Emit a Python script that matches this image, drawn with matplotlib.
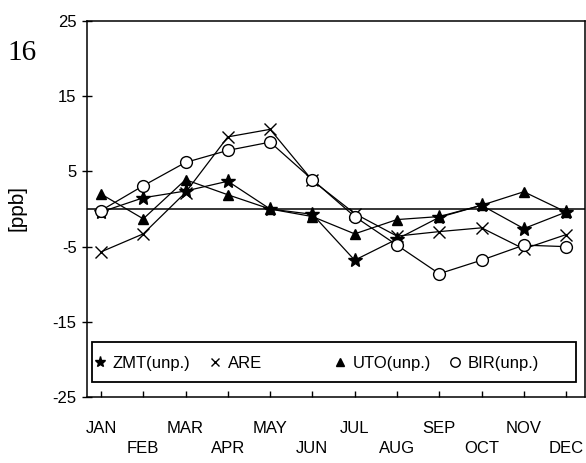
import matplotlib
matplotlib.use("Agg")
import matplotlib.pyplot as plt
from matplotlib.patches import Rectangle
from matplotlib.legend import Legend
import numpy as np

plt.rcParams['font.family'] = ['Liberation Sans', 'DejaVu Sans']

months = ["JAN", "FEB", "MAR", "APR", "MAY", "JUN",
          "JUL", "AUG", "SEP", "OCT", "NOV", "DEC"]

zmt = [-0.4, 1.5, 2.4, 3.7, 0.0, -0.7, -6.8, -4.0, -1.1, 0.5, -2.6, -0.4]
are = [-5.7, -3.3, 2.2, 9.6, 10.6, 3.8, -0.6, -3.6, -3.0, -2.5, -5.3, -3.4]
uto = [2.0, -1.3, 3.9, 1.9, 0.0, -1.0, -3.3, -1.4, -1.0, 0.5, 2.3, -0.4]
bir = [-0.2, 3.1, 6.2, 7.8, 8.9, 3.9, -1.0, -4.8, -8.6, -6.8, -4.8, -5.0]

y_ticks = [25, 15, 5, -5, -15, -25]

fig = plt.figure(figsize=(5.86, 4.63), dpi=100)
ax = fig.add_axes([0.1485, 0.1425, 0.850, 0.812])

x = np.arange(len(months))
lw = 0.9
series = [
    (zmt, "ZMT(unp.)", dict(marker="*", ms=10, mfc="black", mec="black")),
    (are, "ARE", dict(marker="x", ms=8, mew=1.0)),
    (uto, "UTO(unp.)", dict(marker="^", ms=7.5, mfc="black", mec="black")),
    (bir, "BIR(unp.)", dict(marker="o", ms=8.5, mfc="white", mec="black", mew=1.0)),
]
lines = []
for vals, name, style in series:
    ln, = ax.plot(x, vals, color="black", lw=lw, label=name, **style)
    lines.append(ln)

ax.axhline(0, color="black", lw=1.1, zorder=1)

ax.set_xlim(-0.33, 11.45)
ax.set_ylim(-25, 25)

ax.set_yticks(y_ticks)
ax.set_yticklabels([str(v) for v in y_ticks], fontsize=12)
ax.tick_params(axis="y", direction="inout", length=7, width=1, pad=4)

ax.set_xticks(x[::2])
ax.set_xticklabels(months[::2], fontsize=12)
ax.set_xticks(x[1::2], minor=True)
ax.set_xticklabels(months[1::2], minor=True, fontsize=12)
ax.tick_params(axis="x", which="major", direction="in", length=4, width=1, pad=17)
ax.tick_params(axis="x", which="minor", direction="in", length=4, width=1, pad=32)

for side in ["left", "right", "top", "bottom"]:
    ax.spines[side].set_linewidth(1.1)

# legend box with individually placed entries
ax.add_patch(Rectangle((0.01, 0.04), 0.972, 0.106, transform=ax.transAxes,
                       fill=True, facecolor="white", edgecolor="black",
                       lw=1.3, zorder=5))
entry_x = [0.013, 0.244, 0.495, 0.726]
for ln, ex in zip(lines, entry_x):
    lg = Legend(ax, [ln], [ln.get_label()], loc="center left",
                bbox_to_anchor=(ex, 0.0904), frameon=False, fontsize=12,
                handlelength=0.8, handletextpad=0.35, borderpad=0,
                borderaxespad=0, markerscale=0.8)
    lg.set_zorder(6)
    for h in lg.legend_handles:
        h.set_linestyle("none")
    ax.add_artist(lg)

fig.text(0.029, 1 - 208 / 463, "[ppb]", rotation=90, fontsize=15,
         ha="center", va="center")
fig.text(22 / 586, 1 - 53 / 463, "16", fontsize=21, ha="center", va="center",
         family=["Liberation Serif", "DejaVu Serif"])

fig.savefig("out.png", dpi=100)
